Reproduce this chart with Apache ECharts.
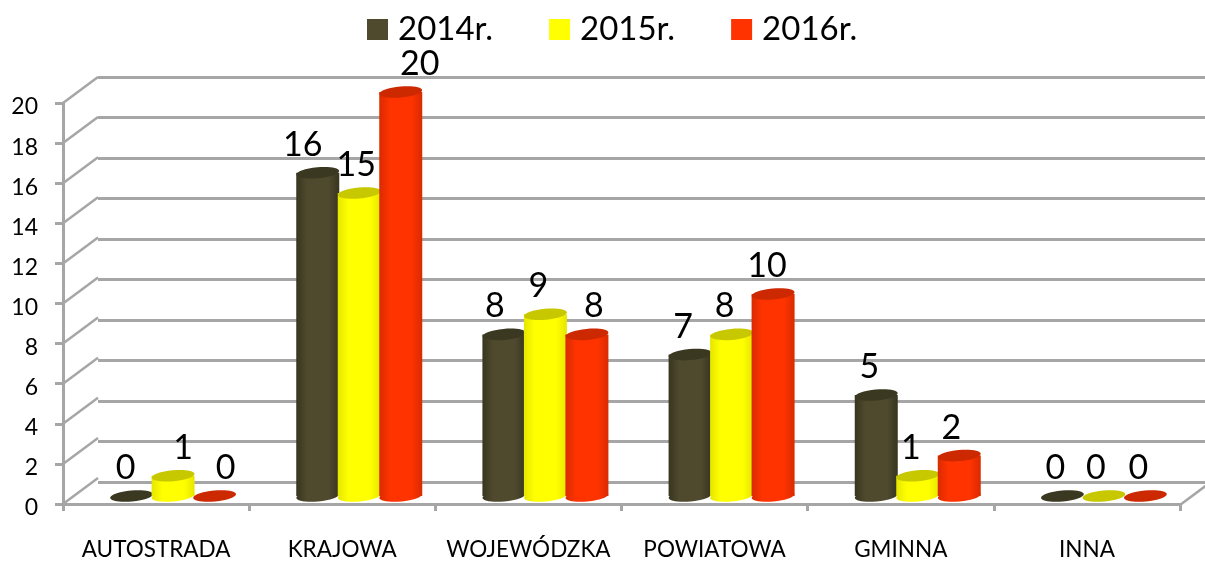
<!DOCTYPE html>
<html><head><meta charset="utf-8">
<style>html,body{margin:0;padding:0;background:#fff}#c{width:1205px;height:561px}</style>
<script src="https://cdn.jsdelivr.net/npm/echarts@6/dist/echarts.min.js"></script>
</head><body><div id="c"></div>
<script>
const categories = ['AUTOSTRADA','KRAJOWA','WOJEWÓDZKA','POWIATOWA','GMINNA','INNA'];
const years = ['2014r.','2015r.','2016r.'];
const values2014 = [0,16,8,7,5,0];
const values2015 = [1,15,9,8,1,0];
const values2016 = [0,20,8,10,2,0];
const yTicks = [0,2,4,6,8,10,12,14,16,18,20];

const FONT = 'Lato, "Open Sans", sans-serif';
const GRID = '#a6a6a6';
const palette = [
  {side:'#38351f', mid:'#4f4a2e', top:'#3b3822'},
  {side:'#e6e600', mid:'#ffff00', top:'#c8c800'},
  {side:'#d92b00', mid:'#ff3300', top:'#cc2900'}
];
const BAR_W = 43, STEP = 41.5, TILT = 0.09, RY = 5.5;
const DEPTH_X = 35, DEPTH_Y = -26;
// hand-placed label nudges in the original chart, relative to the bar centre
const labelDx = [
  [-6,-15,-9,-7,-7,-7],
  [10,-3,-7,-7,-7,-8],
  [11,19,7,-6,-8,-7]
];

const chart = echarts.init(document.getElementById('c'), null, {renderer:'canvas'});

function cylinder(si){
  return function(params, api){
    const idx = api.value(0), v = api.value(1);
    const top = api.coord([idx, v]), base = api.coord([idx, 0]);
    const cx = top[0] + (si-1)*STEP;
    const rx = BAR_W/2, c = palette[si];
    const grad = new echarts.graphic.LinearGradient(0,0,1,0,[
      {offset:0,color:c.side},{offset:0.25,color:c.mid},{offset:0.75,color:c.mid},{offset:1,color:c.side}]);
    const ellipse = (cy, fill) => ({
      type:'ellipse', x:cx, y:cy, rotation:TILT,
      shape:{cx:0,cy:0,rx:rx,ry:RY}, style:{fill:fill}
    });
    const children = [];
    if (v > 0) {
      children.push({type:'ellipse', x:cx, y:base[1], rotation:TILT, shape:{cx:0,cy:0,rx:rx,ry:RY}, style:{fill:grad}});
      children.push({type:'rect', shape:{x:cx-rx,y:top[1],width:BAR_W,height:base[1]-top[1]}, style:{fill:grad}});
    }
    children.push(ellipse(top[1], c.top));
    children.push({type:'text', x:cx+labelDx[si][idx], y:top[1]-28,
      style:{text:String(v), font:'34px '+FONT, fill:'#000', align:'center', verticalAlign:'middle'}, z2:50});
    return {type:'group', children};
  };
}

const mk = (vals)=>vals.map((v,i)=>[i,v]);
const seriesData = [values2014,values2015,values2016];

chart.setOption({
  animation:false,
  backgroundColor:'#fff',
  color:[palette[0].mid,palette[1].mid,palette[2].mid],
  legend:{
    data:years, left:367, top:13, padding:0, itemWidth:21, itemHeight:21, itemGap:56, icon:'rect',
    textStyle:{fontFamily:FONT,fontSize:33,color:'#000',padding:[8,0,0,5]}
  },
  grid:[
    {left:63,top:103,width:1117,height:404},
    {left:98,top:77,width:1117,height:405},
    {left:80,top:92,width:1117,height:404}
  ],
  xAxis:[
    {gridIndex:0,type:'category',data:categories,
      axisLine:{lineStyle:{color:GRID,width:3}},
      axisTick:{show:true,length:7,lineStyle:{color:GRID,width:3}},
      axisLabel:{interval:0,margin:34,fontFamily:FONT,fontSize:22.5,color:'#000'}},
    {gridIndex:1,type:'category',data:categories,show:false},
    {gridIndex:2,type:'category',data:categories,show:false}
  ],
  yAxis:[
    {gridIndex:0,type:'value',min:0,max:20,interval:2,
      axisLine:{show:true,lineStyle:{color:GRID,width:3}},
      axisTick:{show:true,length:8,lineStyle:{color:GRID,width:3}},
      axisLabel:{margin:25,verticalAlign:'top',lineHeight:8,fontFamily:FONT,fontSize:23,color:'#000'},
      splitLine:{show:false}},
    {gridIndex:1,type:'value',min:0,max:20,interval:2,
      axisLine:{show:false},axisTick:{show:false},axisLabel:{show:false},
      splitLine:{show:true,lineStyle:{color:GRID,width:3}}},
    {gridIndex:2,type:'value',min:0,max:20,interval:2,show:false,splitLine:{show:false}}
  ],
  series:[
    {type:'custom',name:'walls',xAxisIndex:0,yAxisIndex:0,z:1,silent:true,clip:false,
      data:yTicks.map(v=>[0,v]),
      renderItem(params,api){
        const p = api.coord([0,api.value(1)]);
        const x0 = p[0]-api.size([1,0])[0]/2;
        const items = [{type:'line',shape:{x1:x0,y1:p[1],x2:x0+DEPTH_X,y2:p[1]+DEPTH_Y},
          style:{stroke:GRID,lineWidth:2.5}}];
        if (api.value(1)===0) {
          const xr = api.coord([5,0])[0]+api.size([1,0])[0]/2;
          items.push({type:'line',shape:{x1:xr,y1:p[1]+1,x2:xr+DEPTH_X,y2:p[1]+1+DEPTH_Y},
            style:{stroke:GRID,lineWidth:2.5}});
        }
        return {type:'group',children:items};
      }},
    ...years.map((y,si)=>({
      type:'custom',name:y,xAxisIndex:2,yAxisIndex:2,z:5+si,clip:false,
      data:mk(seriesData[si]),encode:{x:0,y:1},
      itemStyle:{color:palette[si].mid},
      renderItem:cylinder(si)
    }))
  ]
});
</script></body></html>
